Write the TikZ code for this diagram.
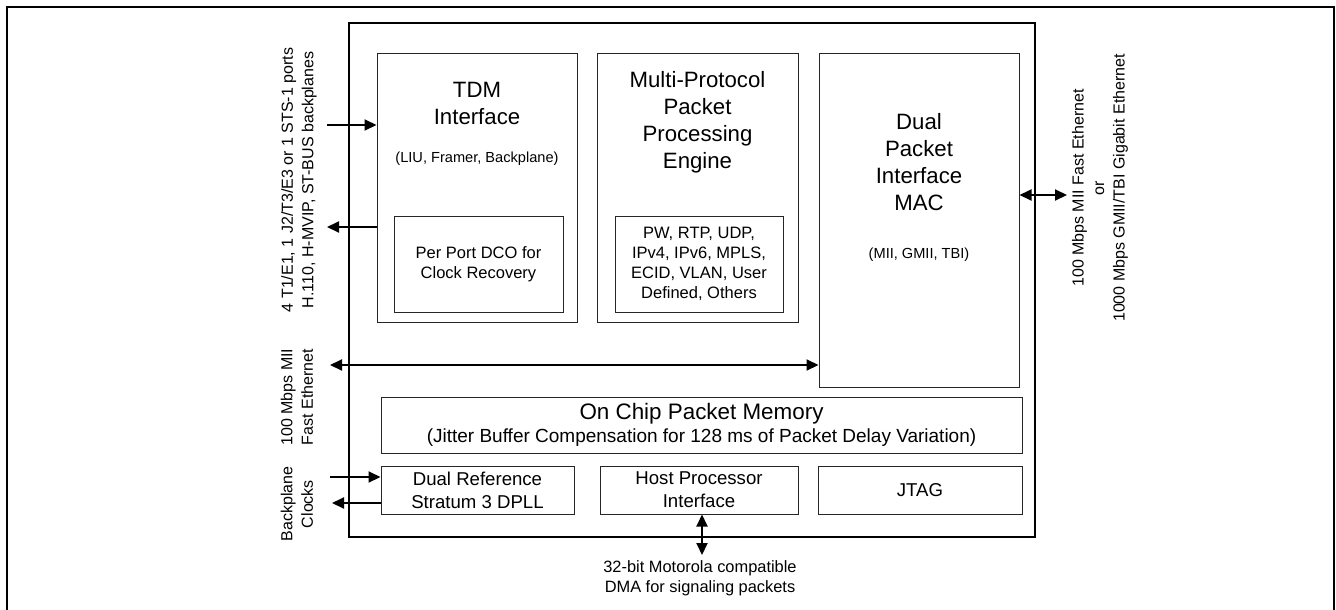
\documentclass[tikz,border=0pt]{standalone}
\usepackage{fontspec}
\setmainfont{Liberation Sans}
\usetikzlibrary{arrows.meta}
\begin{document}
\begin{tikzpicture}[x=1pt,y=-1pt,
  blk/.style={draw=black!85, line width=1pt, inner sep=0pt, align=center},
  titletxt/.style={align=center, inner sep=0pt, font=\fontsize{22.2}{27}\selectfont},
  bodytxt/.style={font=\fontsize{16.5}{20}\selectfont},
  smalltxt/.style={align=center, inner sep=0pt, font=\fontsize{14.6}{18}\selectfont},
  celltxt/.style={font=\fontsize{18.6}{23}\selectfont},
  sidelbl/.style={align=center, inner sep=0pt, rotate=90, font=\fontsize{16}{20.5}\selectfont},
  sig/.style={line width=2pt, -{Triangle[length=12pt,width=11pt]}},
  sigboth/.style={line width=2pt, {Triangle[length=12pt,width=11pt]}-{Triangle[length=12pt,width=11pt]}}
]
\useasboundingbox (0,0) rectangle (1336,610);

% sheet frame
\draw[line width=2pt] (7,615) -- (7,7) -- (1334,7) -- (1334,615);

% device outline
\node[draw, line width=2pt, minimum width=686pt, minimum height=514pt, inner sep=0pt] (chip) at (692,280) {};

% TDM interface block
\node[blk, minimum width=200pt, minimum height=268pt] (tdm) at (477,188) {};
\node[titletxt] (tdmtitle) at (477,103) {TDM\\Interface};
\node[smalltxt] (tdmsub) at (477,159) {(LIU, Framer, Backplane)};
\node[blk, bodytxt, minimum width=169pt, minimum height=96pt] (dco) at (478.5,264) {Per Port DCO for\\Clock Recovery};

% packet processing engine
\node[blk, minimum width=201pt, minimum height=268pt] (ppe) at (697.5,188) {};
\node[titletxt] (ppetitle) at (697.5,122) {Multi-Protocol\\Packet\\Processing\\Engine};
\node[blk, bodytxt, minimum width=168pt, minimum height=96pt] (proto) at (699,264) {PW, RTP, UDP,\\IPv4, IPv6, MPLS,\\ECID, VLAN, User\\Defined, Others};

% packet interface MAC
\node[blk, minimum width=200pt, minimum height=333pt] (mac) at (919,220.5) {};
\node[titletxt] (mactitle) at (919,162) {Dual\\Packet\\Interface\\MAC};
\node[smalltxt] (macsub) at (919,255) {(MII, GMII, TBI)};

% packet memory
\node[blk, minimum width=641pt, minimum height=56pt] (mem) at (701.5,425) {};
\node[inner sep=0pt, font=\fontsize{22.4}{26}\selectfont] (memtitle) at (701.5,414) {On Chip Packet Memory};
\node[inner sep=0pt, font=\fontsize{19}{22}\selectfont] (memsub) at (701.5,438) {(Jitter Buffer Compensation for 128 ms of Packet Delay Variation)};

% bottom row
\node[blk, celltxt, minimum width=193pt, minimum height=48pt] (dpll) at (477.5,490) {Dual Reference\\Stratum 3 DPLL};
\node[blk, celltxt, minimum width=198pt, minimum height=48pt] (host) at (699,490) {Host Processor\\Interface};
\node[blk, celltxt, minimum width=204pt, minimum height=48pt] (jtag) at (920,490) {JTAG};

% external labels
\node[sidelbl] (tdmlbl) at (299,180) {4 T1/E1, 1 J2/T3/E3 or 1 STS-1 ports\\H.110, H-MVIP, ST-BUS backplanes};
\node[sidelbl] (fethlbl) at (297,397) {100 Mbps MII\\Fast Ethernet};
\node[sidelbl] (clklbl) at (297,504) {Backplane\\Clocks};
\node[sidelbl] (ethlbl) at (1100,188) {100 Mbps MII Fast Ethernet\\or\\1000 Mbps GMII/TBI Gigabit Ethernet};
\node[align=center, inner sep=0pt, font=\fontsize{16.4}{20}\selectfont] (dmalbl) at (700,578) {32-bit Motorola compatible\\DMA for signaling packets};

% free ends of the external signals
\coordinate (tdmIn) at (327,125);
\coordinate (tdmOut) at (327,227);
\coordinate (fethEnd) at (330,365);
\coordinate (ethEnd) at (1067,195);
\coordinate (clkIn) at (330,477);
\coordinate (clkOut) at (332,503);
\coordinate (dmaEnd) at (702,555);

% signals
\draw[sig] (tdmIn) -- (tdmIn -| tdm.west);
\draw[sig] (tdmOut -| tdm.west) -- (tdmOut);
\draw[sigboth] (fethEnd) -- (fethEnd -| mac.west);
\draw[sigboth] (ethEnd -| mac.east) -- (ethEnd);
\draw[sig] (clkIn) -- (clkIn -| dpll.west);
\draw[sig] (clkOut -| dpll.west) -- (clkOut);
\draw[sigboth] (dmaEnd |- host.south) -- (dmaEnd);
\end{tikzpicture}
\end{document}
